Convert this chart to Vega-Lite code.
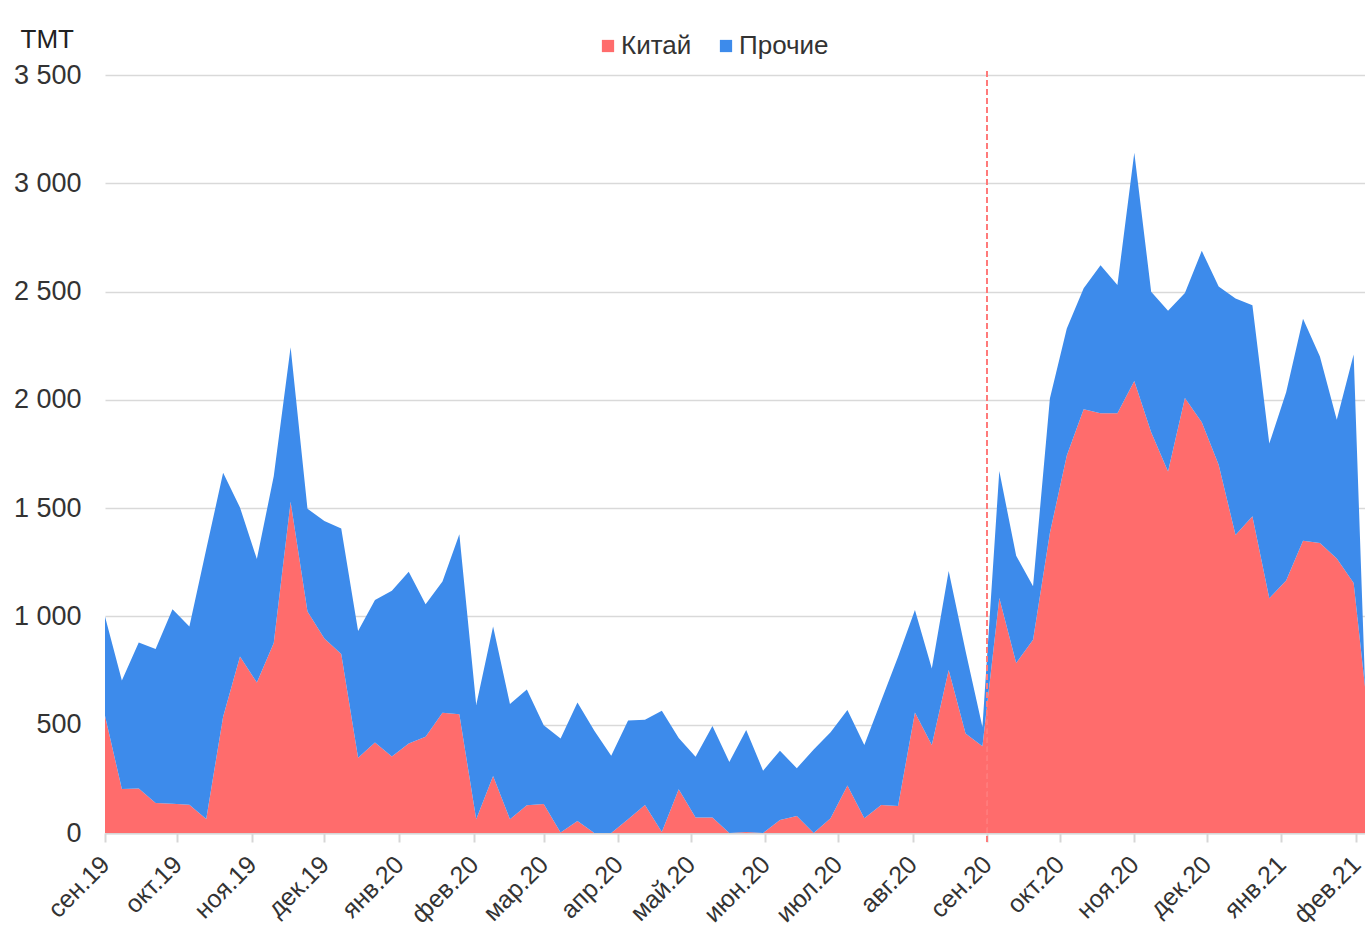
{
  "$schema": "https://vega.github.io/schema/vega-lite/v6.json",
  "width": 1260,
  "height": 758,
  "autosize": {"type": "none"},
  "padding": {"left": 105, "top": 75, "right": 0, "bottom": 100},
  "background": "#ffffff",
  "config": {
    "font": "Liberation Sans",
    "view": {"stroke": null},
    "axis": {"labelColor": "#333333", "titleColor": "#222222"}
  },
  "data": {
    "values": [
      {"d": "2019-09-01T00:00", "Китай": 541, "Прочие": 459},
      {"d": "2019-09-08T00:00", "Китай": 203, "Прочие": 501},
      {"d": "2019-09-15T00:00", "Китай": 206, "Прочие": 674},
      {"d": "2019-09-22T00:00", "Китай": 139, "Прочие": 711},
      {"d": "2019-09-29T00:00", "Китай": 135, "Прочие": 898},
      {"d": "2019-10-06T00:00", "Китай": 130, "Прочие": 823},
      {"d": "2019-10-13T00:00", "Китай": 65, "Прочие": 1245},
      {"d": "2019-10-20T00:00", "Китай": 537, "Прочие": 1126},
      {"d": "2019-10-27T00:00", "Китай": 815, "Прочие": 688},
      {"d": "2019-11-03T00:00", "Китай": 695, "Прочие": 570},
      {"d": "2019-11-10T00:00", "Китай": 877, "Прочие": 770},
      {"d": "2019-11-17T00:00", "Китай": 1529, "Прочие": 714},
      {"d": "2019-11-24T00:00", "Китай": 1023, "Прочие": 474},
      {"d": "2019-12-01T00:00", "Китай": 898, "Прочие": 543},
      {"d": "2019-12-08T00:00", "Китай": 827, "Прочие": 579},
      {"d": "2019-12-15T00:00", "Китай": 347, "Прочие": 586},
      {"d": "2019-12-22T00:00", "Китай": 418, "Прочие": 658},
      {"d": "2019-12-29T00:00", "Китай": 353, "Прочие": 765},
      {"d": "2020-01-05T00:00", "Китай": 413, "Прочие": 793},
      {"d": "2020-01-12T00:00", "Китай": 444, "Прочие": 612},
      {"d": "2020-01-19T00:00", "Китай": 555, "Прочие": 606},
      {"d": "2020-01-26T00:00", "Китай": 548, "Прочие": 831},
      {"d": "2020-02-02T00:00", "Китай": 63, "Прочие": 528},
      {"d": "2020-02-09T00:00", "Китай": 263, "Прочие": 690},
      {"d": "2020-02-16T00:00", "Китай": 63, "Прочие": 533},
      {"d": "2020-02-23T00:00", "Китай": 128, "Прочие": 535},
      {"d": "2020-03-01T00:00", "Китай": 134, "Прочие": 363},
      {"d": "2020-03-08T00:00", "Китай": 2, "Прочие": 434},
      {"d": "2020-03-15T00:00", "Китай": 55, "Прочие": 547},
      {"d": "2020-03-22T00:00", "Китай": 0, "Прочие": 472},
      {"d": "2020-03-29T00:00", "Китай": 0, "Прочие": 357},
      {"d": "2020-04-05T00:00", "Китай": 63, "Прочие": 457},
      {"d": "2020-04-12T00:00", "Китай": 129, "Прочие": 394},
      {"d": "2020-04-19T00:00", "Китай": 5, "Прочие": 560},
      {"d": "2020-04-26T00:00", "Китай": 202, "Прочие": 237},
      {"d": "2020-05-03T00:00", "Китай": 71, "Прочие": 281},
      {"d": "2020-05-10T00:00", "Китай": 71, "Прочие": 423},
      {"d": "2020-05-17T00:00", "Китай": 0, "Прочие": 328},
      {"d": "2020-05-24T00:00", "Китай": 5, "Прочие": 471},
      {"d": "2020-05-31T00:00", "Китай": 0, "Прочие": 288},
      {"d": "2020-06-07T00:00", "Китай": 60, "Прочие": 320},
      {"d": "2020-06-14T00:00", "Китай": 78, "Прочие": 221},
      {"d": "2020-06-21T00:00", "Китай": 0, "Прочие": 386},
      {"d": "2020-06-28T00:00", "Китай": 68, "Прочие": 397},
      {"d": "2020-07-05T00:00", "Китай": 219, "Прочие": 349},
      {"d": "2020-07-12T00:00", "Китай": 68, "Прочие": 338},
      {"d": "2020-07-19T00:00", "Китай": 129, "Прочие": 482},
      {"d": "2020-07-26T00:00", "Китай": 125, "Прочие": 689},
      {"d": "2020-08-02T00:00", "Китай": 556, "Прочие": 474},
      {"d": "2020-08-09T00:00", "Китай": 406, "Прочие": 354},
      {"d": "2020-08-16T00:00", "Китай": 753, "Прочие": 457},
      {"d": "2020-08-23T00:00", "Китай": 460, "Прочие": 380},
      {"d": "2020-08-30T00:00", "Китай": 400, "Прочие": 90},
      {"d": "2020-09-06T00:00", "Китай": 1085, "Прочие": 586},
      {"d": "2020-09-13T00:00", "Китай": 785, "Прочие": 495},
      {"d": "2020-09-20T00:00", "Китай": 892, "Прочие": 247},
      {"d": "2020-09-27T00:00", "Китай": 1386, "Прочие": 622},
      {"d": "2020-10-04T00:00", "Китай": 1743, "Прочие": 587},
      {"d": "2020-10-11T00:00", "Китай": 1957, "Прочие": 558},
      {"d": "2020-10-18T00:00", "Китай": 1938, "Прочие": 684},
      {"d": "2020-10-25T00:00", "Китай": 1938, "Прочие": 592},
      {"d": "2020-11-01T00:00", "Китай": 2087, "Прочие": 1054},
      {"d": "2020-11-08T00:00", "Китай": 1850, "Прочие": 649},
      {"d": "2020-11-15T00:00", "Китай": 1669, "Прочие": 743},
      {"d": "2020-11-22T00:00", "Китай": 2009, "Прочие": 484},
      {"d": "2020-11-29T00:00", "Китай": 1897, "Прочие": 791},
      {"d": "2020-12-06T00:00", "Китай": 1700, "Прочие": 823},
      {"d": "2020-12-13T00:00", "Китай": 1376, "Прочие": 1092},
      {"d": "2020-12-20T00:00", "Китай": 1463, "Прочие": 974},
      {"d": "2020-12-27T00:00", "Китай": 1084, "Прочие": 714},
      {"d": "2021-01-03T00:00", "Китай": 1166, "Прочие": 869},
      {"d": "2021-01-10T00:00", "Китай": 1349, "Прочие": 1026},
      {"d": "2021-01-17T00:00", "Китай": 1339, "Прочие": 861},
      {"d": "2021-01-24T00:00", "Китай": 1267, "Прочие": 641},
      {"d": "2021-01-31T00:00", "Китай": 1154, "Прочие": 1056},
      {"d": "2021-02-04T17:00", "Китай": 675, "Прочие": 17}
    ]
  },
  "layer": [
    {
      "transform": [{"fold": ["Китай", "Прочие"], "as": ["series", "value"]}],
      "mark": {"type": "area", "interpolate": "linear"},
      "encoding": {
        "x": {
          "field": "d",
          "type": "temporal",
          "scale": {
            "domain": [
              {"year": 2019, "month": 9, "date": 1},
              {"year": 2021, "month": 2, "date": 4, "hours": 17}
            ],
            "nice": false
          },
          "axis": {
            "title": null,
            "grid": false,
            "tickCount": {"interval": "month", "step": 1},
            "labelExpr": "['янв','фев','мар','апр','май','июн','июл','авг','сен','окт','ноя','дек'][month(datum.value)] + '.' + timeFormat(datum.value, '%y')",
            "labelAngle": -45,
            "labelAlign": "right",
            "labelBaseline": "middle",
            "labelFontSize": 25,
            "labelPadding": 18,
            "labelOverlap": false,
            "labelBound": false,
            "labelFlush": false,
            "domainColor": "#d6d6d6",
            "domainWidth": 2,
            "tickColor": "#d6d6d6",
            "tickWidth": 2,
            "tickSize": 9
          }
        },
        "y": {
          "field": "value",
          "type": "quantitative",
          "stack": "zero",
          "scale": {"domain": [0, 3500], "nice": false},
          "axis": {
            "title": "ТМТ",
            "titleAngle": 0,
            "titleAlign": "left",
            "titleBaseline": "alphabetic",
            "titleX": -85,
            "titleY": -28,
            "titleFontSize": 26,
            "titleFontWeight": "normal",
            "values": [0, 500, 1000, 1500, 2000, 2500, 3000, 3500],
            "labelExpr": "replace(format(datum.value, ','), ',', ' ')",
            "labelFontSize": 27,
            "labelPadding": 24,
            "domain": false,
            "ticks": false,
            "grid": true,
            "gridColor": "#d9d9d9",
            "gridWidth": 1.5
          }
        },
        "color": {
          "field": "series",
          "type": "nominal",
          "scale": {"domain": ["Китай", "Прочие"], "range": ["#ff6c6c", "#3d8beb"]},
          "legend": {
            "title": null,
            "orient": "none",
            "direction": "horizontal",
            "legendX": 490,
            "legendY": -42,
            "symbolType": "square",
            "symbolSize": 150,
            "symbolStrokeWidth": 0,
            "symbolOpacity": 1,
            "labelFontSize": 26,
            "labelColor": "#333333",
            "labelOffset": 0,
            "columnPadding": 21,
            "padding": 0
          }
        },
        "order": {"field": "series", "sort": "ascending"}
      }
    },
    {
      "mark": {"type": "rule", "color": "#ff7b7b", "strokeWidth": 1.5, "strokeDash": [5, 4]},
      "encoding": {
        "x": {"datum": {"year": 2020, "month": 9, "date": 1}, "type": "temporal"},
        "y": {"datum": -40, "type": "quantitative"},
        "y2": {"datum": 3520}
      }
    }
  ]
}
